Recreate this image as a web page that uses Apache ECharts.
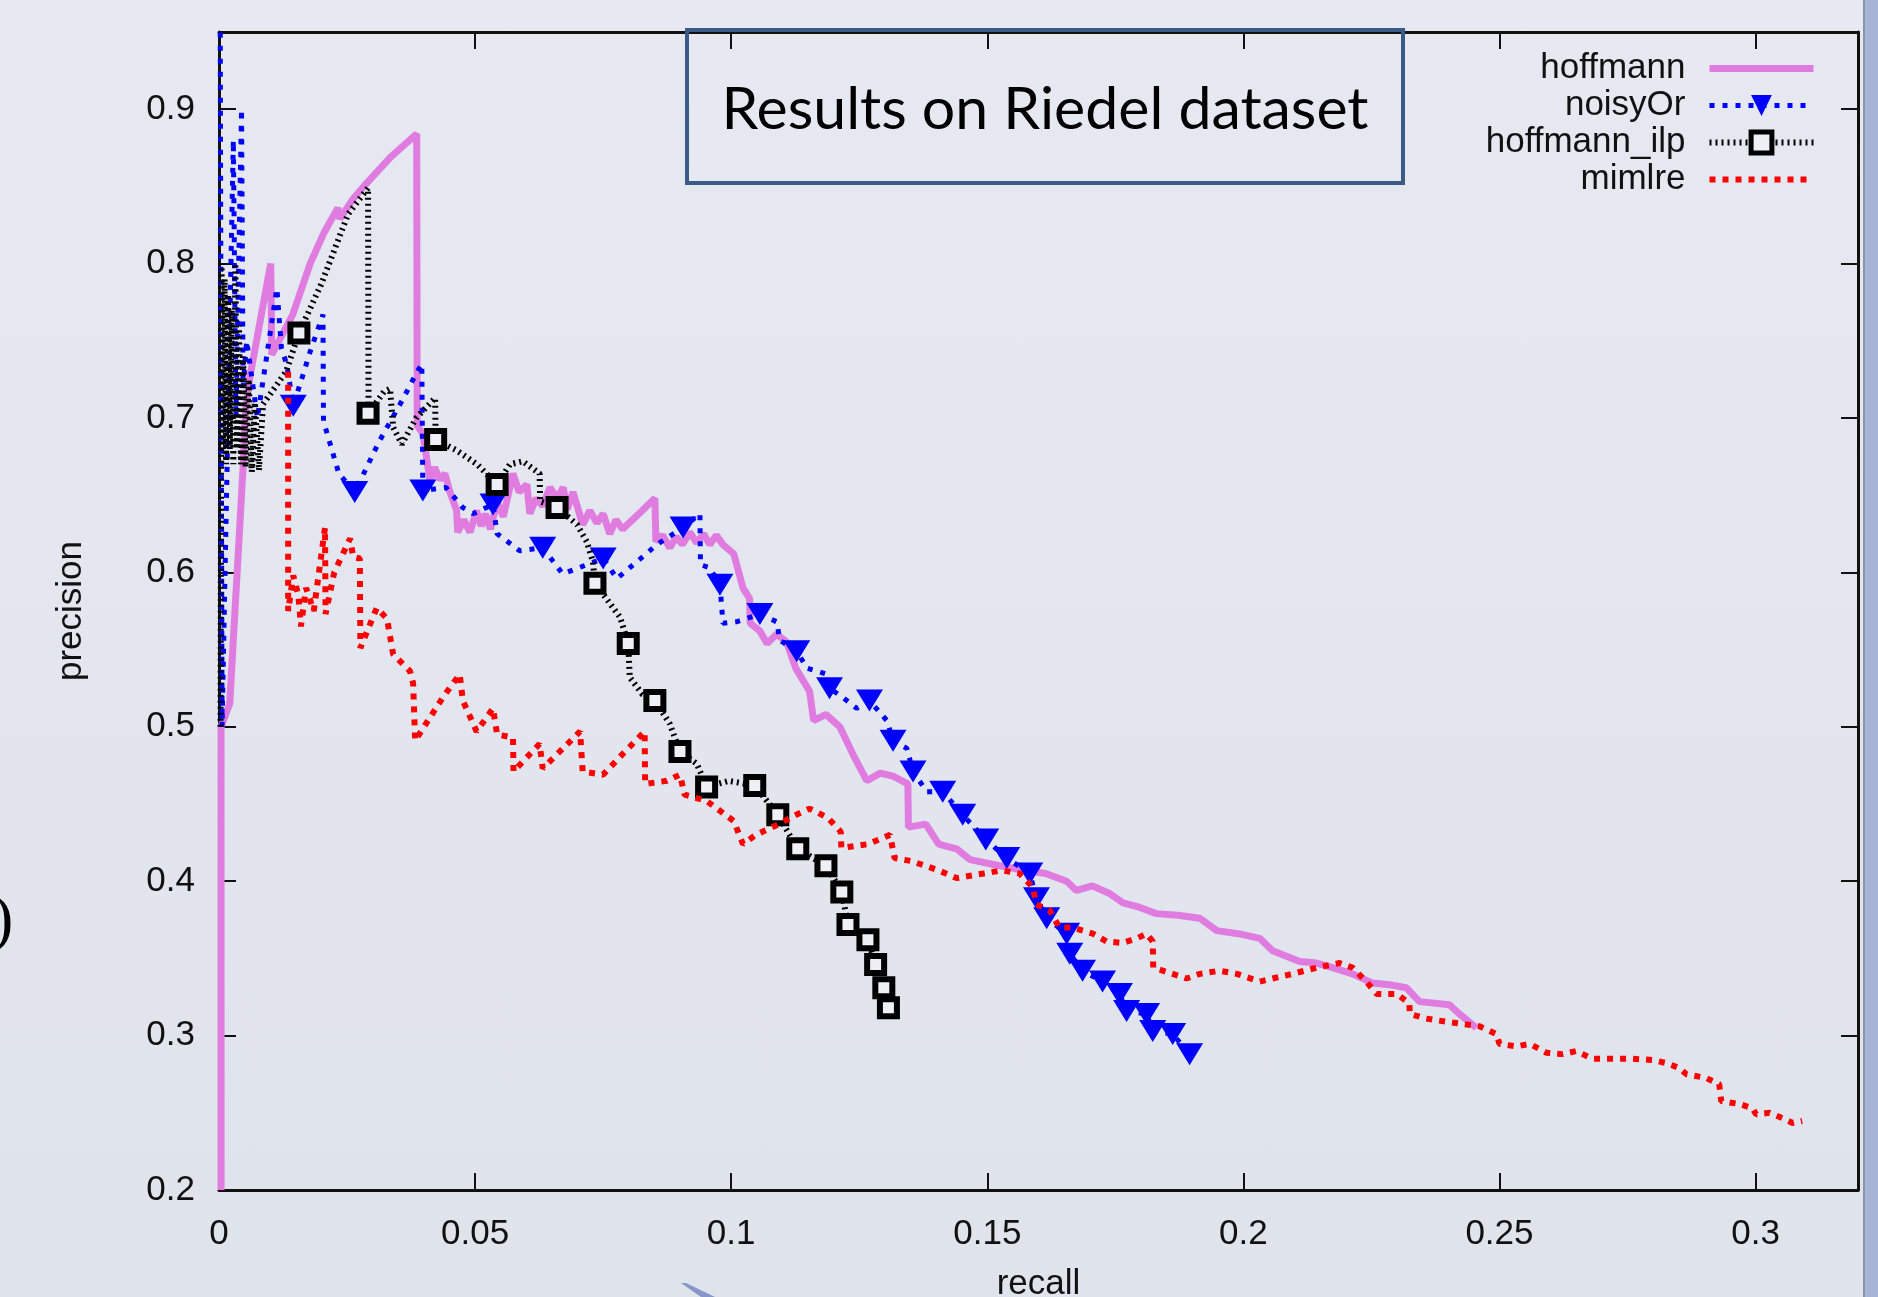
<!DOCTYPE html>
<html>
<head>
<meta charset="utf-8">
<style>
  html, body { margin: 0; padding: 0; }
  #chart { width: 1878px; height: 1297px; background: linear-gradient(#e6e9f1, #dfe3eb); }
</style>
<script src="https://cdn.jsdelivr.net/npm/echarts@6/dist/echarts.min.js"></script>
</head>
<body>
<div id="chart"></div>
<script>
var chart = echarts.init(document.getElementById('chart'));

var seriesNames = ['hoffmann', 'noisyOr', 'hoffmann_ilp', 'mimlre'];

// [recall, precision]
var hoffmann = [
  [0.0004, 0.2], [0.0004, 0.5], [0.0021, 0.515], [0.0047, 0.668], [0.0052, 0.705], [0.006, 0.726],
  [0.0101, 0.80], [0.0103, 0.741], [0.0144, 0.767], [0.0178, 0.80], [0.0205, 0.82], [0.0232, 0.836],
  [0.0236, 0.829], [0.0262, 0.842], [0.0288, 0.852], [0.0335, 0.869], [0.0386, 0.884], [0.0387, 0.695],
  [0.0398, 0.69], [0.0404, 0.677], [0.0412, 0.659], [0.0421, 0.668], [0.0431, 0.660], [0.0441, 0.664],
  [0.0451, 0.652], [0.0464, 0.64], [0.0466, 0.626], [0.0478, 0.634], [0.049, 0.626], [0.0503, 0.64],
  [0.0512, 0.63], [0.052, 0.638], [0.053, 0.628], [0.0543, 0.646], [0.0555, 0.636], [0.0574, 0.664],
  [0.0586, 0.652], [0.0601, 0.657], [0.0607, 0.638], [0.0619, 0.648], [0.0632, 0.643], [0.0646, 0.655],
  [0.066, 0.648], [0.0672, 0.655], [0.068, 0.641], [0.0691, 0.652], [0.0702, 0.640], [0.071, 0.631],
  [0.0724, 0.640], [0.0738, 0.632], [0.075, 0.638], [0.0763, 0.625], [0.0775, 0.634], [0.0788, 0.628],
  [0.082, 0.638], [0.0851, 0.648], [0.0853, 0.62], [0.0866, 0.624], [0.088, 0.616], [0.0893, 0.623],
  [0.0905, 0.618], [0.0919, 0.626], [0.0933, 0.619], [0.0946, 0.625], [0.0958, 0.618], [0.0971, 0.624],
  [0.0984, 0.618], [0.1005, 0.612], [0.1023, 0.59], [0.1036, 0.583], [0.1037, 0.567], [0.1056, 0.562],
  [0.107, 0.554], [0.1089, 0.560], [0.1108, 0.555], [0.1126, 0.538], [0.1153, 0.523], [0.1161, 0.504],
  [0.1185, 0.508], [0.1212, 0.500], [0.1238, 0.482], [0.1265, 0.465], [0.1291, 0.470], [0.1316, 0.468],
  [0.1345, 0.463], [0.1346, 0.435], [0.138, 0.437], [0.1405, 0.424], [0.144, 0.421], [0.1466, 0.414],
  [0.151, 0.411], [0.1571, 0.407], [0.1614, 0.405], [0.1655, 0.40], [0.1674, 0.394], [0.1705, 0.397],
  [0.1739, 0.392], [0.1765, 0.386], [0.1798, 0.383], [0.183, 0.379], [0.1872, 0.378], [0.1915, 0.376],
  [0.1948, 0.368], [0.199, 0.366], [0.2032, 0.363], [0.2057, 0.355], [0.211, 0.348], [0.2143, 0.347],
  [0.2174, 0.344], [0.2213, 0.34], [0.2252, 0.334], [0.2285, 0.333], [0.2318, 0.331], [0.2344, 0.322],
  [0.2402, 0.32], [0.2422, 0.314], [0.2455, 0.305]
];

var noisyOr = [
  [0.0002, 1.0], [0.0006, 0.5], [0.0028, 0.88], [0.0033, 0.70], [0.0044, 0.90], [0.0047, 0.72],
  [0.0054, 0.75], [0.0075, 0.70], [0.0113, 0.784], [0.0122, 0.745], [0.0132, 0.735], [0.0145, 0.708],
  [0.0164, 0.728], [0.0178, 0.743], [0.0203, 0.767], [0.0204, 0.698], [0.0234, 0.664], [0.0265, 0.652],
  [0.0313, 0.685], [0.0357, 0.711], [0.0387, 0.73], [0.0396, 0.735], [0.0397, 0.69], [0.0398, 0.653],
  [0.0443, 0.655], [0.0476, 0.642], [0.0496, 0.638], [0.0535, 0.644], [0.0543, 0.625], [0.0587, 0.614],
  [0.0632, 0.616], [0.0671, 0.599], [0.075, 0.609], [0.0777, 0.596], [0.0855, 0.618], [0.0906, 0.629],
  [0.0939, 0.638], [0.094, 0.605], [0.0958, 0.603], [0.0978, 0.592], [0.0984, 0.567], [0.101, 0.568],
  [0.1056, 0.573], [0.1089, 0.568], [0.1095, 0.556], [0.1128, 0.549], [0.1148, 0.538], [0.1187, 0.534],
  [0.1192, 0.525], [0.1218, 0.519], [0.1245, 0.512], [0.127, 0.517], [0.1304, 0.504], [0.1316, 0.491],
  [0.1343, 0.486], [0.1355, 0.471], [0.1382, 0.458], [0.1413, 0.458], [0.1452, 0.443], [0.1497, 0.427],
  [0.1538, 0.415], [0.1583, 0.405], [0.1596, 0.389], [0.1616, 0.376], [0.1655, 0.366], [0.1661, 0.353],
  [0.1686, 0.342], [0.1725, 0.335], [0.1758, 0.327], [0.1772, 0.316], [0.1811, 0.314], [0.1823, 0.303],
  [0.1862, 0.301], [0.1895, 0.288]
];

var noisyOrMarks = [
  [0.0145, 0.708], [0.0265, 0.652], [0.0398, 0.653], [0.0535, 0.644], [0.0632, 0.616], [0.075, 0.609],
  [0.0906, 0.629], [0.0978, 0.592], [0.1056, 0.573], [0.1128, 0.549], [0.1192, 0.525], [0.127, 0.517],
  [0.1316, 0.491], [0.1355, 0.471], [0.1413, 0.458], [0.1452, 0.443], [0.1497, 0.427], [0.1538, 0.415],
  [0.1583, 0.405], [0.1596, 0.389], [0.1616, 0.376], [0.1655, 0.366], [0.1661, 0.353], [0.1686, 0.342],
  [0.1725, 0.335], [0.1758, 0.327], [0.1772, 0.316], [0.1811, 0.314], [0.1823, 0.303], [0.1862, 0.301],
  [0.1895, 0.288]
];

var hoffmannIlp = [
  [0.0003, 0.5], [0.0005, 0.80], [0.0008, 0.68], [0.0011, 0.79], [0.0014, 0.67], [0.0018, 0.78],
  [0.0021, 0.68], [0.0025, 0.77], [0.0028, 0.67], [0.0032, 0.80], [0.0035, 0.68], [0.0039, 0.76],
  [0.0043, 0.67], [0.0047, 0.74], [0.0052, 0.668], [0.0058, 0.725], [0.0064, 0.665], [0.007, 0.71],
  [0.0078, 0.666], [0.0086, 0.709], [0.0131, 0.73], [0.0156, 0.755], [0.02, 0.787], [0.0252, 0.832],
  [0.0291, 0.849], [0.0292, 0.703], [0.0322, 0.717], [0.0334, 0.719], [0.034, 0.694], [0.0357, 0.683],
  [0.0385, 0.70], [0.0422, 0.713], [0.0423, 0.686], [0.0464, 0.679], [0.0504, 0.67], [0.0543, 0.657],
  [0.0568, 0.67], [0.0593, 0.672], [0.0626, 0.664], [0.0627, 0.646], [0.066, 0.642], [0.0699, 0.631],
  [0.0718, 0.62], [0.073, 0.607], [0.0734, 0.593], [0.0763, 0.58], [0.0783, 0.571], [0.0799, 0.554],
  [0.0802, 0.532], [0.0827, 0.521], [0.0851, 0.517], [0.088, 0.502], [0.09, 0.484], [0.0933, 0.476],
  [0.0952, 0.461], [0.0995, 0.465], [0.1046, 0.462], [0.1091, 0.443], [0.113, 0.421], [0.1185, 0.41],
  [0.1216, 0.393], [0.1228, 0.372], [0.1267, 0.362], [0.1282, 0.346], [0.1298, 0.331], [0.1307, 0.318]
];

var hoffmannIlpMarks = [
  [0.0156, 0.755], [0.0291, 0.703], [0.0423, 0.686], [0.0543, 0.657], [0.066, 0.642], [0.0734, 0.593],
  [0.0799, 0.554], [0.0851, 0.517], [0.09, 0.484], [0.0952, 0.461], [0.1046, 0.462], [0.1091, 0.443],
  [0.113, 0.421], [0.1185, 0.41], [0.1216, 0.393], [0.1228, 0.372], [0.1267, 0.362], [0.1282, 0.346],
  [0.1298, 0.331], [0.1307, 0.318]
];

var mimlre = [
  [0.0135, 0.73], [0.0135, 0.575], [0.0145, 0.598], [0.0155, 0.585], [0.016, 0.565], [0.017, 0.59],
  [0.0185, 0.575], [0.0207, 0.629], [0.0208, 0.573], [0.0225, 0.60], [0.0256, 0.622], [0.0262, 0.61],
  [0.0275, 0.609], [0.0276, 0.551], [0.0308, 0.577], [0.0328, 0.57], [0.034, 0.547], [0.0373, 0.536],
  [0.0379, 0.528], [0.0383, 0.491], [0.0437, 0.519], [0.047, 0.534], [0.0476, 0.517], [0.0503, 0.497],
  [0.0535, 0.512], [0.0543, 0.495], [0.0574, 0.493], [0.0575, 0.471], [0.0626, 0.489], [0.0632, 0.473],
  [0.0705, 0.497], [0.071, 0.471], [0.075, 0.469], [0.0787, 0.482], [0.0831, 0.497], [0.0832, 0.463],
  [0.0874, 0.465], [0.09, 0.469], [0.0909, 0.456], [0.0952, 0.452], [0.1005, 0.439], [0.1023, 0.424],
  [0.1048, 0.43], [0.1093, 0.437], [0.1127, 0.443], [0.1153, 0.447], [0.1189, 0.441], [0.1214, 0.432],
  [0.1215, 0.4215], [0.1267, 0.424], [0.131, 0.43], [0.1319, 0.415], [0.1352, 0.413], [0.1405, 0.407],
  [0.144, 0.402], [0.1493, 0.405], [0.1528, 0.407], [0.1563, 0.405], [0.1589, 0.396], [0.1596, 0.385],
  [0.1622, 0.381], [0.1641, 0.37], [0.1667, 0.37], [0.1706, 0.366], [0.1733, 0.361], [0.1764, 0.36],
  [0.1792, 0.363], [0.1811, 0.366], [0.1823, 0.361], [0.1824, 0.344], [0.1862, 0.34], [0.1889, 0.337],
  [0.1915, 0.34], [0.1953, 0.342], [0.1987, 0.34], [0.2032, 0.335], [0.2057, 0.337], [0.2096, 0.34],
  [0.2143, 0.344], [0.2188, 0.347], [0.2213, 0.344], [0.224, 0.335], [0.226, 0.327], [0.2299, 0.327],
  [0.2324, 0.321], [0.2325, 0.314], [0.2357, 0.311], [0.2396, 0.309], [0.2461, 0.306], [0.2494, 0.301],
  [0.25, 0.2946], [0.2533, 0.293], [0.2559, 0.2946], [0.2592, 0.2889], [0.2623, 0.288], [0.265, 0.29],
  [0.2681, 0.285], [0.276, 0.285], [0.2799, 0.2842], [0.2826, 0.2822], [0.2851, 0.279], [0.2865, 0.275],
  [0.2904, 0.2725], [0.2929, 0.2686], [0.2933, 0.2576], [0.2968, 0.2557], [0.2994, 0.253], [0.3001, 0.249],
  [0.3027, 0.25], [0.3052, 0.2466], [0.3072, 0.2434], [0.3091, 0.2447]
];

var titleText = 'Results on Riedel dataset';

var font = 'Liberation Sans';
var ink = '#111111';

function makeXAxis(pos, showLabels) {
    return {
        type: 'value',
        position: pos,
        min: 0,
        max: 0.32,
        interval: 0.05,
        name: showLabels ? 'recall' : '',
        nameLocation: 'middle',
        nameGap: 77,
        nameTextStyle: { fontFamily: font, fontSize: 35, color: ink },
        axisLine: { onZero: false, lineStyle: { color: ink, width: 3 } },
        axisTick: { inside: true, length: 17, lineStyle: { color: ink, width: 2 } },
        axisLabel: {
            show: showLabels,
            fontFamily: font,
            fontSize: 35,
            color: ink,
            margin: 27,
            showMaxLabel: false
        },
        splitLine: { show: false }
    };
}

function makeYAxis(pos, showLabels) {
    return {
        type: 'value',
        position: pos,
        min: 0.2,
        max: 0.95,
        interval: 0.1,
        name: showLabels ? 'precision' : '',
        nameLocation: 'middle',
        nameRotate: 90,
        nameGap: 130,
        nameTextStyle: { fontFamily: font, fontSize: 35, color: ink },
        axisLine: { onZero: false, lineStyle: { color: ink, width: 3 } },
        axisTick: { inside: true, length: 17, lineStyle: { color: ink, width: 2 } },
        axisLabel: {
            show: showLabels,
            fontFamily: font,
            fontSize: 35,
            color: ink,
            margin: 24,
            showMaxLabel: false
        },
        splitLine: { show: false }
    };
}

option = {
    backgroundColor: 'transparent',
    animation: false,
    grid: {
        left: 219,
        right: 20,
        top: 32,
        bottom: 107,
        containLabel: false,
        outerBoundsMode: 'none'
    },
    legend: {
        orient: 'vertical',
        align: 'right',
        right: 56,
        top: 46,
        itemWidth: 104,
        itemHeight: 26,
        itemGap: 2,
        selectedMode: false,
        data: [
            { name: 'hoffmann', itemStyle: { opacity: 0 } },
            { name: 'noisyOr' },
            { name: 'hoffmann_ilp', itemStyle: { borderWidth: 5 } },
            { name: 'mimlre', itemStyle: { opacity: 0 } }
        ],
        lineStyle: { width: 'inherit' },
        textStyle: {
            fontFamily: font,
            fontSize: 35,
            color: ink,
            lineHeight: 30,
            padding: [0, 19, 0, 0]
        }
    },
    xAxis: [makeXAxis('bottom', true), makeXAxis('top', false)],
    yAxis: [makeYAxis('left', true), makeYAxis('right', false)],
    series: [
        {
            name: seriesNames[0],
            type: 'line',
            symbol: 'circle',
            showSymbol: false,
            lineStyle: { color: '#e07ce0', width: 7 },
            itemStyle: { color: '#e07ce0' },
            data: hoffmann,
            z: 2
        },
        {
            name: seriesNames[1],
            type: 'line',
            symbol: 'triangle',
            symbolRotate: 180,
            showSymbol: false,
            lineStyle: { color: '#0000ff', width: 5, type: [5, 8] },
            itemStyle: { color: '#0000ff' },
            data: noisyOr,
            z: 3
        },
        {
            name: seriesNames[1],
            type: 'scatter',
            symbol: 'triangle',
            symbolRotate: 180,
            symbolSize: [27, 22],
            itemStyle: { color: '#0000ff', opacity: 1 },
            data: noisyOrMarks,
            silent: true,
            z: 4
        },
        {
            name: seriesNames[2],
            type: 'line',
            symbol: 'rect',
            showSymbol: false,
            lineStyle: { color: '#000000', width: 6, type: [2, 4] },
            itemStyle: { color: '#eef0f5', borderColor: '#000000', borderWidth: 6 },
            data: hoffmannIlp,
            z: 5
        },
        {
            name: seriesNames[2],
            type: 'scatter',
            symbol: 'rect',
            symbolSize: 17,
            itemStyle: { color: '#eef0f5', borderColor: '#000000', borderWidth: 6, opacity: 1 },
            data: hoffmannIlpMarks,
            silent: true,
            z: 6
        },
        {
            name: seriesNames[3],
            type: 'line',
            symbol: 'circle',
            showSymbol: false,
            lineStyle: { color: '#ff0000', width: 6, type: [6, 7] },
            itemStyle: { color: '#ff0000' },
            data: mimlre,
            z: 7
        }
    ],
    graphic: [
        {
            type: 'rect',
            shape: { x: 687, y: 30, width: 716, height: 153 },
            style: { fill: 'none', stroke: '#3b5a86', lineWidth: 4 },
            z: 100
        },
        {
            type: 'text',
            x: 1045,
            y: 110,
            style: {
                text: titleText,
                fontFamily: 'Lato',
                fontSize: 59,
                fill: '#000000',
                align: 'center',
                verticalAlign: 'middle'
            },
            z: 100
        },
        {
            type: 'text',
            x: -8,
            y: 922,
            style: {
                text: ')',
                fontFamily: 'Liberation Serif',
                fontSize: 64,
                fill: '#000000',
                verticalAlign: 'middle'
            },
            z: 100
        },
        {
            type: 'rect',
            shape: { x: 1864, y: 0, width: 14, height: 1297 },
            style: { fill: '#a7b4d8' },
            z: 100
        },
        {
            type: 'line',
            shape: { x1: 1864, y1: 0, x2: 1864, y2: 1297 },
            style: { stroke: '#8a93a8', lineWidth: 2 },
            z: 100
        },
        {
            type: 'polygon',
            shape: { points: [[681, 1283], [686, 1283], [715, 1297], [701, 1297]] },
            style: { fill: '#8796c8' },
            z: 100
        }
    ]
};

chart.setOption(option);
</script>
</body>
</html>
